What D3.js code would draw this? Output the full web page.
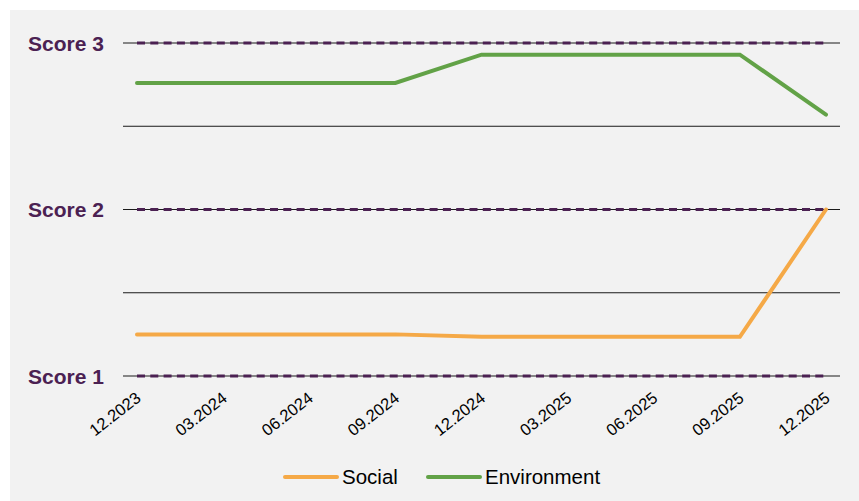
<!DOCTYPE html>
<html>
<head>
<meta charset="utf-8">
<script src="https://cdn.jsdelivr.net/npm/d3@7"></script>
<style>
  html, body { margin: 0; padding: 0; background: #fff; }
  svg { display: block; }
</style>
</head>
<body>
<svg id="chart" width="859" height="501"></svg>
<script>
// Data
const periods = ["12.2023", "03.2024", "06.2024", "09.2024", "12.2024", "03.2025", "06.2025", "09.2025", "12.2025"];
const socialScores = [1.25, 1.25, 1.25, 1.25, 1.235, 1.235, 1.235, 1.235, 2.0];
const environmentScores = [2.76, 2.76, 2.76, 2.76, 2.93, 2.93, 2.93, 2.93, 2.57];
const scoreLevels = [1, 2, 3];
const gridLevels = [1, 1.5, 2, 2.5, 3];
const scoreLabels = ["Score 1", "Score 2", "Score 3"];

const series = [
    { name: "Social", values: socialScores, color: "#f5a947" },
    { name: "Environment", values: environmentScores, color: "#62a247" }
];

const svg = d3.select("#chart");
const W = 859, H = 501;
const FONT = "Arial, 'Liberation Sans', sans-serif";

// grey panel
svg.append("rect")
    .attr("x", 10).attr("y", 10)
    .attr("width", W - 10).attr("height", H - 10)
    .attr("fill", "#f2f2f2");

const plotLeft = 123, plotRight = 840;

const x = d3.scalePoint()
    .domain(periods)
    .range([137, 826]);

const y = d3.scaleLinear()
    .domain([1, 3])
    .range([376, 43]);

const g = svg.append("g");

// solid grid lines
g.append("g")
    .selectAll("line")
    .data(gridLevels)
    .join("line")
    .attr("x1", plotLeft)
    .attr("x2", plotRight)
    .attr("y1", d => y(d))
    .attr("y2", d => y(d))
    .attr("stroke", "#1a1a1a")
    .attr("stroke-width", 1);

// dashed score reference lines
g.append("g")
    .selectAll("line")
    .data(scoreLevels)
    .join("line")
    .attr("x1", x(periods[0]))
    .attr("x2", x(periods[periods.length - 1]))
    .attr("y1", d => y(d))
    .attr("y2", d => y(d))
    .attr("stroke", "#4b2152")
    .attr("stroke-width", 2.8)
    .attr("stroke-dasharray", "8,5.3");

// score labels
g.append("g")
    .attr("font-family", FONT)
    .attr("font-weight", "bold")
    .attr("font-size", "21px")
    .attr("fill", "#4b2152")
    .selectAll("text")
    .data(scoreLevels)
    .join("text")
    .attr("x", 104)
    .attr("y", d => y(d))
    .attr("dy", "0.36em")
    .attr("text-anchor", "end")
    .text((d, i) => scoreLabels[i]);

// x axis labels
g.append("g")
    .attr("font-family", FONT)
    .attr("font-size", "16.5px")
    .attr("fill", "#000")
    .selectAll("text")
    .data(periods)
    .join("text")
    .attr("text-anchor", "end")
    .attr("transform", d => `translate(${x(d) + 5},${400}) rotate(-38)`)
    .text(d => d);

// series lines
const line = d3.line()
    .x((d, i) => x(periods[i]))
    .y(d => y(d));

g.append("g")
    .selectAll("path")
    .data(series)
    .join("path")
    .attr("d", d => line(d.values))
    .attr("fill", "none")
    .attr("stroke", d => d.color)
    .attr("stroke-width", 4)
    .attr("stroke-linecap", "round")
    .attr("stroke-linejoin", "miter");

// legend
const legendItems = [
    { x: 285, tx: 342 },
    { x: 428, tx: 485 }
];
const legend = g.append("g")
    .selectAll("g")
    .data(series)
    .join("g");

legend.append("line")
    .attr("x1", (d, i) => legendItems[i].x)
    .attr("x2", (d, i) => legendItems[i].x + 52)
    .attr("y1", 477)
    .attr("y2", 477)
    .attr("stroke", d => d.color)
    .attr("stroke-width", 4)
    .attr("stroke-linecap", "round");

legend.append("text")
    .attr("x", (d, i) => legendItems[i].tx)
    .attr("y", 477)
    .attr("dy", "0.35em")
    .attr("font-family", FONT)
    .attr("font-size", "20.5px")
    .attr("fill", "#000")
    .text(d => d.name);
</script>
</body>
</html>
